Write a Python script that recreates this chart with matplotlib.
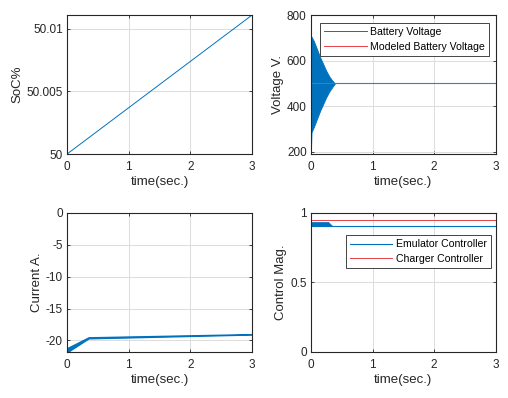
import matplotlib
matplotlib.use("Agg")
import matplotlib.pyplot as plt

plt.rcParams['font.family'] = ['Liberation Sans', 'DejaVu Sans']
plt.rcParams['axes.unicode_minus'] = False

# ---- data ----
soc_t = [0, 3]
soc_val = [50.0, 50.0111]

volt_env_t = [0, 0.01, 0.05, 0.10, 0.15, 0.20, 0.25, 0.30, 0.35, 0.39]
volt_upper = [700, 705, 685, 650, 615, 585, 555, 530, 512, 500]
volt_lower = [200, 285, 310, 345, 380, 410, 440, 465, 485, 500]
volt_steady_t = [0.39, 3]
volt_steady = [500, 500]
model_t = [0, 3]
model_v = [500, 500]

cur_t = [0, 0.35, 3]
cur_upper = [-21.2, -19.5, -19.0]
cur_lower = [-21.9, -19.7, -19.1]

emu_band_t = [0, 0.28, 0.35]
emu_band_top = [0.935, 0.935, 0.905]
emu_t = [0, 3]
emu_v = [0.905, 0.905]
chg_t = [0, 3]
chg_v = [0.952, 0.952]

xticks = [0, 1, 2, 3]

BLUE = '#0072BD'
RED = '#E8404A'
SPINE = '#262626'
GRID = '#DCDCDC'

fig = plt.figure(figsize=(5.08, 3.98), dpi=100)

positions = [
    [0.132, 0.613, 0.364, 0.349],
    [0.612, 0.613, 0.364, 0.349],
    [0.132, 0.116, 0.364, 0.349],
    [0.612, 0.116, 0.364, 0.349],
]
axes = [fig.add_axes(p) for p in positions]

for ax in axes:
    ax.set_xlim(0, 3)
    ax.set_xticks(xticks)
    ax.grid(True, color=GRID, lw=0.7)
    ax.set_axisbelow(True)
    for s in ax.spines.values():
        s.set_color(SPINE)
        s.set_linewidth(0.8)
    ax.tick_params(direction='in', length=2.5, width=0.6, colors=SPINE,
                   labelsize=8.5, top=True, right=True)
    ax.tick_params(axis='x', pad=5)
    ax.tick_params(axis='y', pad=3)
    ax.set_xlabel('time(sec.)', fontsize=9.5, labelpad=2.5, color='#262626')

def legend(ax, anchor):
    leg = ax.legend(loc='upper left', bbox_to_anchor=anchor, fontsize=7.6,
                    handlelength=4.0, handletextpad=0.3, borderpad=0.4,
                    labelspacing=0.45, fancybox=False, framealpha=1,
                    edgecolor='#262626', borderaxespad=0)
    leg.get_frame().set_linewidth(0.6)
    return leg

# SoC
ax = axes[0]
ax.plot(soc_t, soc_val, color=BLUE, lw=0.7)
ax.set_ylim(50.0, 50.0111)
ax.set_yticks([50.0, 50.005, 50.01])
ax.set_yticklabels(['50', '50.005', '50.01'])
ax.set_ylabel('SoC%', fontsize=9.5, labelpad=2, color='#262626')

# Voltage
ax = axes[1]
ax.fill_between(volt_env_t, volt_lower, volt_upper, color=BLUE, lw=0.6,
                edgecolor=BLUE)
ax.plot(volt_steady_t, volt_steady, color=BLUE, lw=0.8)
ax.plot([], [], color=BLUE, lw=0.7, label='Battery Voltage')
ax.plot(model_t, model_v, color=RED, lw=0.7, label='Modeled Battery Voltage')
ax.set_ylim(190, 800)
ax.set_yticks([200, 400, 600, 800])
ax.set_ylabel('Voltage V.', fontsize=9.5, labelpad=2, color='#262626')
legend(ax, (0.05, 0.945))

# Current
ax = axes[2]
ax.fill_between(cur_t, cur_lower, cur_upper, color=BLUE, lw=0.8, edgecolor=BLUE)
ax.set_ylim(-21.8, 0)
ax.set_yticks([-20, -15, -10, -5, 0])
ax.set_ylabel('Current A.', fontsize=9.5, labelpad=2, color='#262626')

# Control
ax = axes[3]
ax.fill_between(emu_band_t, [emu_v[0]] * len(emu_band_t), emu_band_top,
                color=BLUE, lw=0.5, edgecolor=BLUE)
ax.plot(emu_t, emu_v, color=BLUE, lw=0.8, label='Emulator Controller')
ax.plot(chg_t, chg_v, color=RED, lw=0.7, label='Charger Controller')
ax.set_ylim(0, 1)
ax.set_yticks([0, 0.5, 1])
ax.set_yticklabels(['0', '0.5', '1'])
ax.set_ylabel('Control Mag.', fontsize=9.5, labelpad=2, color='#262626')
legend(ax, (0.19, 0.84))

fig.savefig('out.png', dpi=100)
